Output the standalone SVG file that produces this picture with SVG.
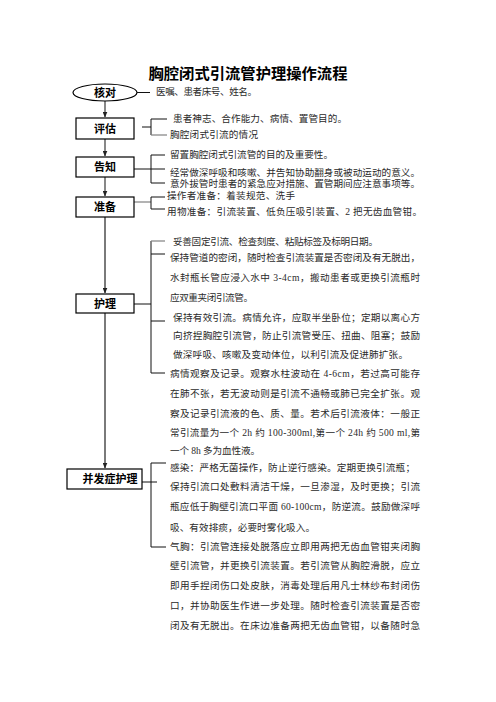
<svg xmlns="http://www.w3.org/2000/svg" width="496" height="702" viewBox="0 0 496 702">
<defs>
<marker id="ah" markerWidth="6" markerHeight="5" refX="5.5" refY="2.5" orient="auto" markerUnits="userSpaceOnUse">
<path d="M0,0 L6,2.5 L0,5 Z" fill="#222"/>
</marker>
<style>
.box{fill:#fff;stroke:#000;stroke-width:1.2}
.lbl{font-family:"Noto Sans CJK SC","Liberation Sans",sans-serif;font-weight:bold;font-size:11px;fill:#000;text-anchor:middle}
.t{font-family:"Liberation Serif","Noto Sans CJK SC",serif;font-size:9.6px;fill:#2a2a2a}
.k{stroke:#111;stroke-width:1;fill:none}
.g{stroke:#808080;stroke-width:1.2;fill:none}
.ga{stroke:#7a7a7a;stroke-width:2;fill:none}
.ka{stroke:#555;stroke-width:1.4;fill:none}
</style>
</defs>
<rect width="496" height="702" fill="#fff"/>
<text x="248" y="79" text-anchor="middle" textLength="199" lengthAdjust="spacingAndGlyphs" style="font-family:'Noto Sans CJK SC',sans-serif;font-weight:bold;font-size:15px;fill:#000">胸腔闭式引流管护理操作流程</text>

<g id="connectors">
<line class="ka" x1="105" y1="101" x2="105" y2="117" marker-end="url(#ah)"/>
<line class="ka" x1="105" y1="139" x2="105" y2="156" marker-end="url(#ah)"/>
<line class="ka" x1="105" y1="177" x2="105" y2="196" marker-end="url(#ah)"/>
<line class="ga" x1="105" y1="217" x2="105" y2="293" marker-end="url(#ah)"/>
<line class="ga" x1="105" y1="313" x2="105" y2="468" marker-end="url(#ah)"/>
<!-- 核对 -->
<line class="k" x1="137" y1="92.5" x2="150" y2="92.5"/>
<!-- 评估 bracket -->
<line class="k" x1="142" y1="127" x2="151" y2="127"/>
<line class="k" x1="151" y1="119" x2="151" y2="135"/>
<line class="k" x1="151" y1="119" x2="167" y2="119"/>
<line class="g" x1="151" y1="135" x2="167" y2="135"/>
<!-- 告知 bracket -->
<line class="k" x1="134" y1="169" x2="165" y2="169"/>
<line class="k" x1="151" y1="155" x2="151" y2="183"/>
<line class="k" x1="151" y1="155" x2="165" y2="155"/>
<line class="k" x1="151" y1="183" x2="165" y2="183"/>
<!-- 准备 bracket -->
<line class="g" x1="134" y1="202" x2="151" y2="202"/>
<line class="k" x1="151" y1="197" x2="151" y2="209"/>
<line class="k" x1="151" y1="197" x2="165" y2="197"/>
<line class="k" x1="151" y1="209" x2="165" y2="209"/>
<!-- 护理 bracket -->
<line class="k" x1="134" y1="304" x2="151" y2="304"/>
<line class="k" x1="151" y1="241" x2="151" y2="373"/>
<line class="g" x1="151" y1="241" x2="165" y2="241"/>
<line class="k" x1="151" y1="254" x2="165" y2="254"/>
<line class="k" x1="151" y1="321" x2="165" y2="321"/>
<line class="k" x1="151" y1="373" x2="165" y2="373"/>
<!-- 并发症护理 bracket -->
<line class="k" x1="142" y1="482" x2="157" y2="482"/>
<line class="k" x1="151" y1="463" x2="151" y2="547"/>
<line class="k" x1="151" y1="463" x2="166" y2="463"/>
<line class="k" x1="151" y1="547" x2="166" y2="547"/>
</g>

<g id="node-hedui">
<ellipse cx="105" cy="92.5" rx="32" ry="8.5" fill="#fff" stroke="#000" stroke-width="1.2"/>
<text class="lbl" x="105" y="96.5">核对</text>
</g>
<g id="node-pinggu">
<rect class="box" x="76" y="118" width="58" height="21"/>
<text class="lbl" x="105" y="132.5">评估</text>
</g>
<g id="node-gaozhi">
<rect class="box" x="76" y="157" width="58" height="20"/>
<text class="lbl" x="105" y="171">告知</text>
</g>
<g id="node-zhunbei">
<rect class="box" x="76" y="197" width="58" height="20"/>
<text class="lbl" x="105" y="211">准备</text>
</g>
<g id="node-huli">
<rect class="box" x="76" y="294" width="58" height="19"/>
<text class="lbl" x="105" y="307.5">护理</text>
</g>
<g id="node-bingfa">
<rect class="box" x="67" y="469" width="75" height="20"/>
<text class="lbl" x="110" y="483">并发症护理</text>
</g>

<g id="texts">
<text class="t" x="156" y="95" textLength="101">医嘱、患者床号、姓名。</text>
<text class="t" x="173" y="121.5" textLength="174">患者神志、合作能力、病情、置管目的。</text>
<text class="t" x="170" y="137.5" textLength="88">胸腔闭式引流的情况</text>
<text class="t" x="170" y="157.5" textLength="163">留置胸腔闭式引流管的目的及重要性。</text>
<text class="t" x="170" y="175.5" textLength="250">经常做深呼吸和咳嗽、并告知协助翻身或被动运动的意义。</text>
<text class="t" x="170" y="186.5" textLength="250">意外拔管时患者的紧急应对措施、置管期间应注意事项等。</text>
<text class="t" x="167" y="198.5" textLength="128">操作者准备：着装规范、洗手</text>
<text class="t" x="167" y="214.5" textLength="255">用物准备：引流装置、低负压吸引装置、2 把无齿血管钳。</text>

<text class="t" x="173" y="244.5" textLength="205">妥善固定引流、检查刻度、粘贴标签及标明日期。</text>
<text class="t" x="170" y="260.5" textLength="250">保持管道的密闭，随时检查引流装置是否密闭及有无脱出，</text>
<text class="t" x="170" y="280.5" textLength="250">水封瓶长管应浸入水中 3-4cm，搬动患者或更换引流瓶时</text>
<text class="t" x="170" y="300.5" textLength="83">应双重夹闭引流管。</text>
<text class="t" x="173" y="320.5" textLength="247">保持有效引流。病情允许，应取半坐卧位；定期以离心方</text>
<text class="t" x="173" y="338.5" textLength="247">向挤捏胸腔引流管，防止引流管受压、扭曲、阻塞；鼓励</text>
<text class="t" x="173" y="357.5" textLength="235">做深呼吸、咳嗽及变动体位，以利引流及促进肺扩张。</text>
<text class="t" x="170" y="376.5" textLength="250">病情观察及记录。观察水柱波动在 4-6cm，若过高可能存</text>
<text class="t" x="170" y="396.5" textLength="250">在肺不张，若无波动则是引流不通畅或肺已完全扩张。观</text>
<text class="t" x="170" y="416.5" textLength="250">察及记录引流液的色、质、量。若术后引流液体：一般正</text>
<text class="t" x="170" y="435.5" textLength="250">常引流量为一个 2h 约 100-300ml,第一个 24h 约 500 ml,第</text>
<text class="t" x="170" y="453.5" textLength="90">一个 8h 多为血性液。</text>

<text class="t" x="170" y="470.5" textLength="245">感染：严格无菌操作，防止逆行感染。定期更换引流瓶；</text>
<text class="t" x="170" y="489.5" textLength="250">保持引流口处敷料清洁干燥，一旦渗湿，及时更换；引流</text>
<text class="t" x="170" y="509.5" textLength="250">瓶应低于胸壁引流口平面 60-100cm，防逆流。鼓励做深呼</text>
<text class="t" x="170" y="530.5" textLength="145">吸、有效排痰，必要时雾化吸入。</text>
<text class="t" x="170" y="549.5" textLength="250">气胸：引流管连接处脱落应立即用两把无齿血管钳夹闭胸</text>
<text class="t" x="170" y="568.5" textLength="250">壁引流管，并更换引流装置。若引流管从胸腔滑脱，应立</text>
<text class="t" x="170" y="588.5" textLength="250">即用手捏闭伤口处皮肤，消毒处理后用凡士林纱布封闭伤</text>
<text class="t" x="170" y="608.5" textLength="250">口，并协助医生作进一步处理。随时检查引流装置是否密</text>
<text class="t" x="170" y="628.5" textLength="250">闭及有无脱出。在床边准备两把无齿血管钳，以备随时急</text>
</g>
</svg>
